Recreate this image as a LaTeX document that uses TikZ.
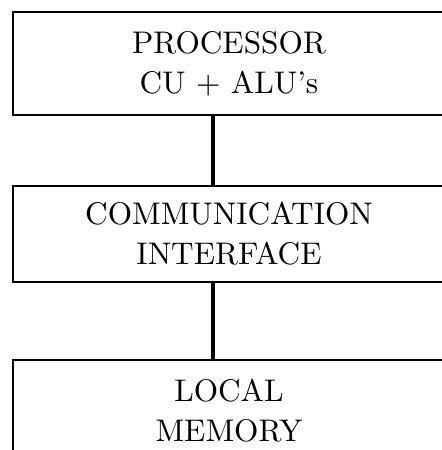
\documentclass[tikz,border=0pt]{standalone}
\usepackage{amsmath, amssymb}
\usepackage{fontspec}
\usepackage{tikz}
\newfontfamily\unitfont{lmroman10-regular}[Extension=.otf,Ligatures=TeX]

\begin{document}
\begin{tikzpicture}[x=1cm,y=1cm,
    unitbox/.style={rectangle,draw,line width=0.9pt,minimum width=8.64cm,
      align=center,inner sep=0pt,font=\unitfont\fontsize{17.8}{22.8}\selectfont},
    link/.style={line width=1.9pt}]

    \useasboundingbox (0,0) rectangle (8.84,-9.0);
    \clip (0,0) rectangle (8.84,-9.0);

    % The three units of one processing element
    \node[unitbox,minimum height=2.06cm] (proc) at (4.58,-1.27)
      {PROCESSOR\\CU + ALU’s};
    \node[unitbox,minimum height=1.92cm] (comm) at (4.58,-4.68)
      {COMMUNICATION\\INTERFACE};
    \node[unitbox,minimum height=2.04cm] (mem) at (4.58,-8.22)
      {LOCAL\\MEMORY};

    % Links between the units
    \coordinate (bus) at (4.26,0);
    \draw[link] (proc.south -| bus) -- (comm.north -| bus);
    \draw[link] (comm.south -| bus) -- (mem.north -| bus);

  \end{tikzpicture}
\end{document}
